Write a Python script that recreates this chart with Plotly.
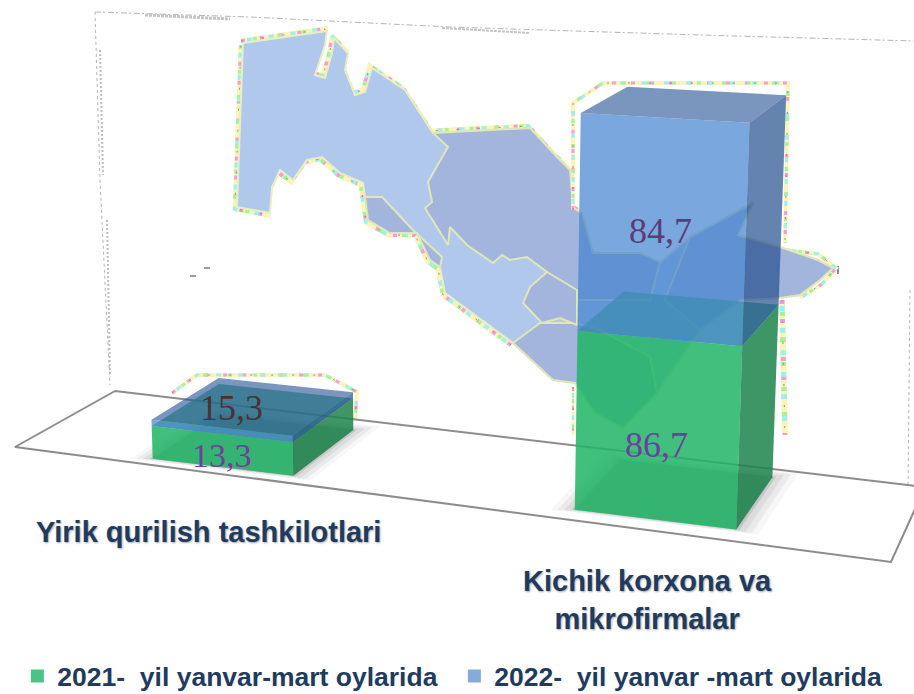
import numpy as np
import plotly.graph_objects as go

# ---------- data ----------
categories = ["Yirik qurilish tashkilotlari", "Kichik korxona va<br>mikrofirmalar"]
series_names = ["2021-\u00a0 yil yanvar-mart oylarida", "2022-\u00a0 yil yanvar -mart oylarida"]
values_2021 = [13.3, 86.7]
values_2022 = [15.3, 84.7]
# heights of the drawn block tops (the picture's blocks
# are not proportional to their printed labels), in units of the green right block
drawn_top_2021 = [17.2, 86.7]
drawn_top_2022 = [20.5, 188.0]

# ---------- projection: (category spacing, depth, height) -> page pixels ----------
CAT_GAP = 2.87
calibration = [
    ((2.37, 0, 0), (575, 510)), ((3.37, 0, 0), (737, 530)), ((3.37, 1, 0), (772, 477)),
    ((2.37, 0, 86.7), (577, 330)), ((3.37, 0, 86.7), (743, 346)),
    ((3.37, 1, 86.7), (778, 305)), ((2.37, 1, 86.7), (623, 290)),
    ((2.37, 0, 188), (579, 112)), ((3.37, 0, 188), (749, 123)),
    ((3.37, 1, 188), (786, 97)), ((2.37, 1, 188), (630, 86)),
    ((-.5, 0, 0), (153, 457)), ((.5, 0, 0), (293, 475)), ((.5, 1, 0), (353, 428)),
    ((-.5, 0, 20.5), (152, 421)), ((.5, 0, 20.5), (293, 438)),
    ((.5, 1, 20.5), (353, 395)), ((-.5, 1, 20.5), (218, 378)),
]


def fit_projection(pairs):
    rows = []
    for (X, Y, Z), (u, v) in pairs:
        Z = Z / 100
        u, v = u / 500, v / 500
        rows.append([X, Y, Z, 1, 0, 0, 0, 0, -u * X, -u * Y, -u * Z, -u])
        rows.append([0, 0, 0, 0, X, Y, Z, 1, -v * X, -v * Y, -v * Z, -v])
    return np.linalg.svd(np.array(rows, float))[2][-1].reshape(3, 4)


P = fit_projection(calibration)


def project(points):
    pts = np.array(points, float)
    h = np.c_[pts[:, 0], pts[:, 1], pts[:, 2] / 100, np.ones(len(pts))]
    q = h @ P.T
    return list(q[:, 0] / q[:, 2] * 500), list(q[:, 1] / q[:, 2] * 500)


fig = go.Figure()


def poly(xs, ys, color, line=None, width=0):
    fig.add_trace(go.Scatter(
        x=list(xs) + [xs[0]], y=list(ys) + [ys[0]], mode="lines", fill="toself", fillcolor=color,
        line=dict(color=line or "rgba(0,0,0,0)", width=width), hoverinfo="skip", showlegend=False))


def path(pts, color, width=1, dash=None):
    fig.add_trace(go.Scatter(
        x=[p[0] for p in pts], y=[p[1] for p in pts], mode="lines",
        line=dict(color=color, width=width, dash=dash), hoverinfo="skip", showlegend=False))


def speckle(pts, w=4):
    path(pts, "#f9f5b8", w)
    path(pts, "#f59be0", w - 1, "4px,15px")
    path(pts, "#9df0ee", w - 1, "0px,6px,5px,11px")
    path(pts, "#a6f29b", w - 1, "0px,12px,4px,9px")
    path(pts, "#8f8f8f", 1, "2px,19px")


# ---------- wall and floor decoration ----------
path([(95, 12), (250, 17), (450, 27), (700, 35), (914, 41)], "#b4b4b4", 1, "6px,2px,2px,3px")
path([(145, 15), (230, 19)], "#c4c4c4", 3, "3px,1px")
path([(442, 28), (530, 33)], "#c4c4c4", 2, "3px,1px")
path([(95, 12), (100, 180), (110, 385)], "#b4b4b4", 1, "3px,3px")
path([(100, 50), (103, 175)], "#bdbdbd", 2, "2px,2px")
path([(107, 220), (110, 375)], "#bdbdbd", 2, "2px,2px")
path([(910, 290), (908, 490)], "#b4b4b4", 1, "3px,3px")
path([(190, 276), (196, 276)], "#9a9a9a", 2)
path([(204, 268), (210, 268)], "#9a9a9a", 2)
path([(838, 266), (838, 274)], "#8a8a8a", 2)

# ---------- map ----------
outline = [
    (243, 43), (327, 31), (325, 45), (315, 75), (325, 78), (332, 53), (334, 38), (348, 53), (345, 70),
    (355, 95), (365, 92), (372, 68), (405, 90), (433, 133), (490, 130), (530, 128), (557, 157),
    (570, 170), (573, 208), (582, 213), (593, 253), (640, 253), (660, 262), (690, 237), (727, 217),
    (753, 203), (738, 235), (780, 247), (818, 260), (833, 268), (820, 280), (800, 295), (780, 298),
    (740, 300), (700, 330), (657, 393), (623, 428), (595, 413), (575, 383), (553, 380), (513, 343),
    (445, 293), (440, 267), (430, 260), (417, 233), (390, 233), (368, 220), (365, 197), (363, 183),
    (340, 173), (322, 157), (307, 160), (300, 170), (293, 180), (280, 170), (272, 187), (270, 213),
    (237, 207), (243, 43),
]
speckle([(p[0] - 2, p[1] - 2) for p in outline[:20]], 5)
speckle([(p[0] - 2, p[1] + 2) for p in outline[40:]], 5)
speckle([(786, 250), (818, 254), (836, 268), (822, 284), (800, 298)], 4)
xs, ys = zip(*outline)
poly(list(xs), list(ys), "#b0c8ec", "#e9edc4", 2)

dark_regions = [
    [(433, 133), (490, 130), (530, 128), (557, 157), (570, 170), (573, 208), (582, 213), (593, 253),
     (640, 253), (660, 262), (650, 300), (600, 300), (575, 300), (547, 272), (527, 257), (510, 260),
     (502, 255), (493, 263), (467, 245), (450, 227), (448, 245), (425, 208), (432, 202), (428, 182),
     (448, 147)],
    [(373, 197), (382, 197), (413, 230), (442, 257), (440, 267), (430, 260), (417, 233), (390, 233),
     (368, 220), (365, 197)],
    [(513, 343), (540, 323), (577, 323), (600, 330), (650, 357), (657, 393), (623, 428), (595, 413),
     (575, 383), (553, 380)],
    [(547, 272), (530, 287), (523, 303), (542, 323), (560, 318), (577, 325), (577, 290)],
    [(690, 237), (727, 217), (753, 203), (738, 235), (780, 247), (818, 260), (833, 268), (820, 280),
     (800, 295), (780, 298), (740, 300), (700, 330), (665, 300)],
]
for reg in dark_regions:
    xs, ys = zip(*reg)
    poly(list(xs), list(ys), "#a3b5dc", "#dfe6b8", 2)

# halos of the blocks
speckle([(573, 210), (573, 103), (603, 83), (788, 83), (785, 243)], 4)
speckle([(782, 300), (785, 435)], 6)
speckle([(573, 387), (573, 435)], 3)
speckle([(172, 393), (197, 375), (325, 375), (357, 392), (355, 420)], 4)

# floor
floor_px = [(115, 391), (15, 447), (891, 562), (925, 487)]
poly([p[0] for p in floor_px], [p[1] for p in floor_px], "#ffffff")
path([(115, 391), (15, 447), (891, 562), (925, 487), (115, 391)], "#8c8c8c", 2)

# ---------- bars ----------
GREEN = dict(front="rgba(32,181,102,.85)", side="rgba(28,131,74,.85)", top="rgba(40,165,110,.7)")
BLUE = dict(front="rgba(66,129,206,.7)", side="rgba(34,78,139,.7)", top="rgba(40,85,150,.62)")


def block(cx, z0, z1, col):
    l, r = cx - .5, cx + .5
    x, y = project([(l, 0, z1), (r, 0, z1), (r, 1, z1), (l, 1, z1)])
    poly(x, y, col["top"])
    x, y = project([(l, 0, z0), (r, 0, z0), (r, 0, z1), (l, 0, z1)])
    poly(x, y, col["front"])
    x, y = project([(r, 0, z0), (r, 1, z0), (r, 1, z1), (r, 0, z1)])
    poly(x, y, col["side"])


for i in range(len(categories)):
    cx = i * CAT_GAP
    for k, a in ((.14, .03), (.1, .05), (.06, .06), (.02, .1), (0, .12)):
        x, y = project([(cx - .5 - k, -k / 3, 0), (cx + .5 + k, -k / 3, 0),
                        (cx + .5 + k, 1 + k, 0), (cx - .5 - k, 1 + k, 0)])
        poly(x, y, f"rgba(0,0,0,{a})")
    block(cx, 0, drawn_top_2021[i], GREEN)
    block(cx, drawn_top_2021[i], drawn_top_2022[i], BLUE)

# ---------- legend ----------
for name, color in zip(series_names, ("#49c484", "#86abd9")):
    fig.add_trace(go.Scatter(x=[None], y=[None], mode="markers", name=name,
                             marker=dict(symbol="square", size=13, color=color)))

# ---------- value labels ----------
fmt = lambda v: f"{v:.1f}".replace(".", ",")
label_text = [fmt(values_2022[0]), fmt(values_2021[0]), fmt(values_2022[1]), fmt(values_2021[1])]
label_color = ["#4a3232", "#6d3f9e", "#5b3c78", "#6d3f9e"]
label_size = [36, 34, 36, 36]
label_x = [231, 222, 660, 656]
label_y = [408, 455, 231, 445]
for t, c, s, x, y in zip(label_text, label_color, label_size, label_x, label_y):
    fig.add_annotation(x=x, y=y, text=t, showarrow=False, xref="x", yref="y",
                       font=dict(family="Liberation Serif", size=s, color=c))

# ---------- category labels ----------
cat_x = [208, 647]
cat_y = [532, 600]
for t, x, y in zip(categories, cat_x, cat_y):
    fig.add_annotation(x=x, y=y, text=t, showarrow=False, xref="x", yref="y", align="center",
                       font=dict(family="Liberation Sans", size=29, color="#1f3b5e", weight="bold",
                                 shadow="1px 1px 2px rgba(0,0,0,.35)"))

fig.update_layout(
    width=914, height=694, margin=dict(l=0, r=0, t=0, b=0, autoexpand=False),
    paper_bgcolor="white", plot_bgcolor="white",
    xaxis=dict(range=[0, 914], visible=False, fixedrange=True),
    yaxis=dict(range=[694, 0], visible=False, fixedrange=True),
    legend=dict(orientation="h", x=0.019, xanchor="left", y=-0.009, yanchor="bottom",
                bgcolor="rgba(0,0,0,0)", entrywidth=392, entrywidthmode="pixels",
                font=dict(family="Liberation Sans", size=26.5, color="#1f3b5e", weight="bold")),
)
fig.write_html("out.html", post_script="document.body.style.margin='0';",
               config=dict(displayModeBar=False))
